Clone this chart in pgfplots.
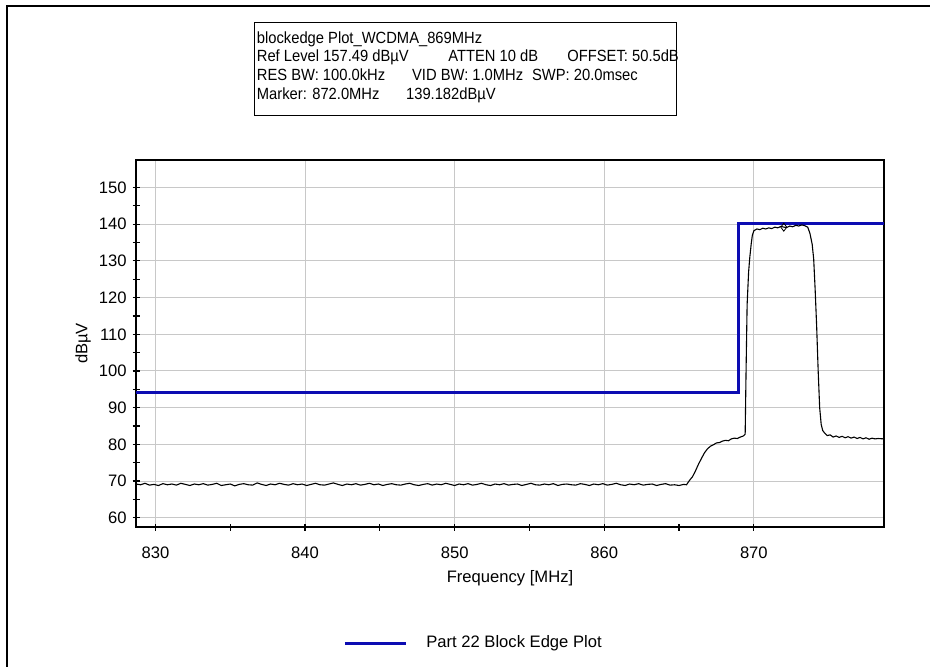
\documentclass[border=0pt]{standalone}
\usepackage{fontspec}
\setmainfont{Liberation Sans}
\newfontfamily\boxfont[FakeStretch=0.91]{Liberation Sans}
\usepackage{pgfplots}
\pgfplotsset{compat=1.18}
\definecolor{limblue}{RGB}{12,12,178}
\definecolor{gridgray}{RGB}{200,200,200}
\begin{document}
\fontsize{8.3}{10}\selectfont
\begin{tikzpicture}
\useasboundingbox (0,0) rectangle (465pt,-333.5pt);
\begin{scope}[x=0.5pt,y=-0.5pt,every node/.style={anchor=base west,inner sep=0pt,font=\boxfont\fontsize{8.1}{9}\selectfont}]
\draw[line width=1pt,black] (7,700) -- (7,6) -- (940,6);
\draw[line width=0.5pt,black] (254,23) rectangle (676,116);
\node at (256.5,43.3) {blockedge Plot\_WCDMA\_869MHz};
\node at (256.5,62) {Ref Level 157.49 dBµV};
\node at (448,62) {ATTEN 10 dB};
\node at (567,62) {OFFSET: 50.5dB};
\node at (256.5,80.7) {RES BW: 100.0kHz};
\node at (411.7,80.7) {VID BW: 1.0MHz};
\node at (531.7,80.7) {SWP: 20.0msec};
\node at (256.5,99.3) {Marker: 872.0MHz};
\node at (405.7,99.3) {139.182dBµV};
\end{scope}
\begin{axis}[
  at={(68pt,-263.5pt)}, anchor=south west,
  scale only axis, width=374pt, height=183.5pt,
  xmin=828.7, xmax=878.7, ymin=57.49, ymax=157.49,
  xtick={830,840,850,860,870}, ytick={60,70,...,150},
  minor x tick num=1, minor y tick num=1,
  tick pos=left, tick align=center,
  major tick length=3.5pt, minor tick length=3.5pt,
  every tick/.style={black, line width=0.6pt},
  axis line style={black, line width=0.8pt},
  grid=major, major grid style={gridgray, line width=0.5pt},
  /pgf/number format/assume math mode=true,
  /pgf/number format/1000 sep={},
  ticklabel style={font=\fontsize{8.3}{10}\selectfont},
  xticklabel style={yshift=-5pt},
  xlabel={Frequency [MHz]}, ylabel={dBµV},
  xlabel style={at={(axis description cs:0.5,-0.139)}, anchor=center},
  ylabel style={at={(axis description cs:-0.0709,0.5)}, anchor=center},
  label style={font=\fontsize{8.3}{10}\selectfont},
  legend style={at={(rel axis cs:0.2767,-0.3161)}, anchor=west, draw=none, fill=none, inner sep=0pt, nodes={inner sep=0pt}, font=\fontsize{8.3}{10}\selectfont},
  legend image code/.code={\draw[#1] (0pt,0pt) -- (30.5pt,0pt); \path (40pt,0pt);},
  clip=true,
]
\addplot[limblue, line width=1.5pt] coordinates {(828.7,94.2) (869.0,94.2) (869.0,140.2) (878.7,140.2)};
\addlegendentry{Part 22 Block Edge Plot}
\addplot[black, line width=0.55pt, forget plot] coordinates {
(828.7,69.2) (829.0,69.0) (829.3,69.4) (829.6,68.9) (829.9,69.1) (830.2,68.8) (830.5,69.3) (830.8,69.0)
(831.1,69.2) (831.4,68.9) (831.7,69.4) (832.0,69.1) (832.3,68.8) (832.6,69.2) (832.9,69.0) (833.2,69.3)
(833.5,68.9) (833.8,69.1) (834.1,69.4) (834.4,68.8) (834.7,69.0) (835.0,69.2) (835.3,68.7) (835.6,69.1)
(835.9,69.3) (836.2,69.0) (836.5,68.9) (836.8,69.5) (837.1,69.1) (837.4,68.8) (837.7,69.2) (838.0,69.0)
(838.3,69.4) (838.6,69.1) (838.9,68.9) (839.2,69.3) (839.5,69.0) (839.8,69.2) (840.1,68.8) (840.4,69.1)
(840.7,69.4) (841.0,69.0) (841.3,68.9) (841.6,69.2) (841.9,69.5) (842.2,69.1) (842.5,68.8) (842.8,69.2)
(843.1,69.0) (843.4,69.3) (843.7,68.9) (844.0,69.1) (844.3,69.4) (844.6,69.0) (844.9,69.2) (845.2,68.8)
(845.5,69.1) (845.8,69.3) (846.1,69.0) (846.4,68.9) (846.7,69.2) (847.0,69.4) (847.3,69.0) (847.6,68.8)
(847.9,69.1) (848.2,69.3) (848.5,68.9) (848.8,69.2) (849.1,69.0) (849.4,69.4) (849.7,69.1) (850.0,68.8)
(850.3,69.2) (850.6,69.0) (850.9,69.3) (851.2,68.9) (851.5,69.1) (851.8,69.4) (852.1,69.0) (852.4,68.8)
(852.7,69.2) (853.0,69.0) (853.3,69.3) (853.6,68.9) (853.9,69.1) (854.2,69.2) (854.5,68.8) (854.8,69.1)
(855.1,69.4) (855.4,69.0) (855.7,68.9) (856.0,69.2) (856.3,69.0) (856.6,69.3) (856.9,68.8) (857.2,69.1)
(857.5,69.2) (857.8,69.0) (858.1,68.9) (858.4,69.3) (858.7,69.1) (859.0,68.8) (859.3,69.2) (859.6,69.0)
(859.9,69.3) (860.2,68.9) (860.5,69.1) (860.8,69.4) (861.1,69.0) (861.4,68.8) (861.7,69.2) (862.0,69.0)
(862.3,69.3) (862.6,68.9) (862.9,69.1) (863.2,69.2) (863.5,68.8) (863.8,69.1) (864.1,69.3) (864.4,68.9)
(864.7,69.0) (865.0,68.8) (865.3,69.1) (865.5,69.0) (865.7,70.2) (865.9,71.2) (866.1,72.8) (866.3,74.6)
(866.5,76.2) (866.7,77.7) (866.9,78.8) (867.1,79.5) (867.3,79.9) (867.5,80.4) (867.7,80.5) (867.9,80.9)
(868.1,81.1) (868.3,81.0) (868.5,81.5) (868.7,81.7) (868.9,81.6) (869.1,82.0) (869.3,82.3) (869.42,82.8)
(869.48,100) (869.55,118) (869.65,127) (869.73,131) (869.82,134.5) (869.9,137) (870.0,138.2) (870.2,138.7)
(870.4,138.5) (870.6,138.9) (870.8,138.7) (871.0,139.0) (871.2,138.8) (871.4,139.2) (871.6,139.0) (871.8,139.4)
(872.0,139.2) (872.2,139.1) (872.4,139.5) (872.6,139.3) (872.8,139.7) (873.0,139.5) (873.2,139.8) (873.4,139.6)
(873.6,139.2) (873.75,137.5) (873.9,134.5) (874.0,130.5) (874.1,122) (874.2,112) (874.3,100) (874.4,90)
(874.5,85.5) (874.6,83.8) (874.75,83.0) (874.9,82.4) (875.1,82.6) (875.3,82.0) (875.5,82.3) (875.7,81.9)
(875.9,82.2) (876.1,81.8) (876.3,82.1) (876.5,81.7) (876.7,82.0) (876.9,81.6) (877.1,81.9) (877.3,81.5)
(877.5,81.8) (877.7,81.4) (877.9,81.7) (878.1,81.5) (878.3,81.6) (878.7,81.5)
};
\addplot[black, only marks, mark=diamond, mark size=2pt, line width=0.4pt, forget plot] coordinates {(872.0,139.182)};
\end{axis}
\end{tikzpicture}
\end{document}
